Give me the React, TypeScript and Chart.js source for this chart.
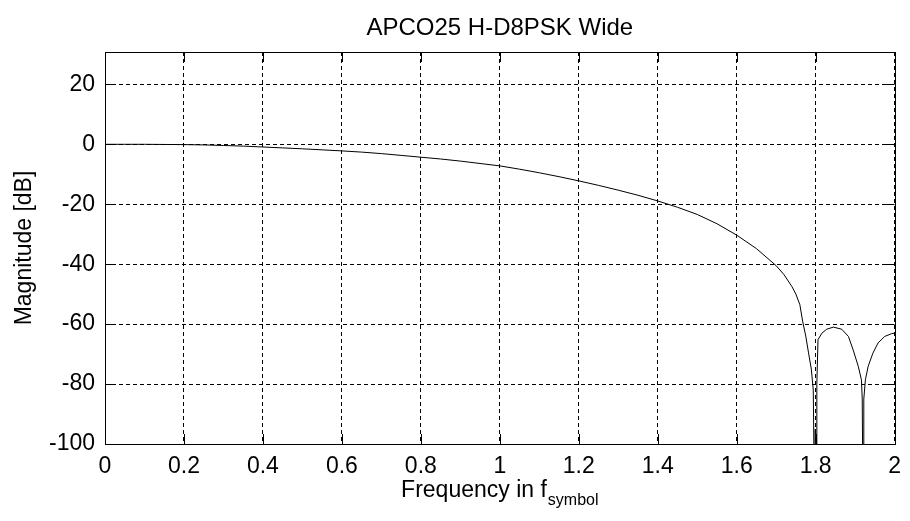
import { useEffect, useRef } from "react";
import { Chart, registerables } from "chart.js";

Chart.register(...registerables);

const FONT = "'Liberation Sans', Arial, Helvetica, sans-serif";

const TITLE = "APCO25 H-D8PSK Wide";
const Y_LABEL = "Magnitude [dB]";
const X_LABEL_MAIN = "Frequency in f";
const X_LABEL_SUB = "symbol";

const X_TICKS = [0, 0.2, 0.4, 0.6, 0.8, 1, 1.2, 1.4, 1.6, 1.8, 2];
const Y_TICKS = [-100, -80, -60, -40, -20, 0, 20];
const X_MIN = 0;
const X_MAX = 2;
const Y_MIN = -100;
const Y_MAX = 30.8;

const FREQ = [
  0, 0.05, 0.1, 0.15, 0.2, 0.25, 0.3, 0.35, 0.4, 0.45, 0.5, 0.55, 0.6, 0.65,
  0.7, 0.75, 0.8, 0.85, 0.9, 0.95, 1.0, 1.05, 1.1, 1.15, 1.2, 1.25, 1.3, 1.35,
  1.4, 1.45, 1.5, 1.55, 1.6, 1.65, 1.7, 1.72, 1.74, 1.75, 1.76, 1.767, 1.775,
  1.782, 1.789, 1.794, 1.797, 1.799, 1.801, 1.803, 1.806, 1.816, 1.828, 1.845,
  1.866, 1.883, 1.895, 1.908, 1.916, 1.918, 1.92, 1.922, 1.926, 1.933, 1.945,
  1.958, 1.975, 1.992, 2.0,
];
const MAG_DB = [
  0, 0, 0, -0.05, -0.1, -0.2, -0.4, -0.6, -0.9, -1.2, -1.5, -1.85, -2.2, -2.6,
  -3.1, -3.7, -4.3, -4.9, -5.6, -6.4, -7.2, -8.3, -9.5, -10.8, -12.2, -13.7,
  -15.3, -17.0, -18.9, -21.0, -23.4, -26.5, -30.3, -34.8, -40.5, -43.5, -47.5,
  -50.0, -53.5, -59.0, -64.0, -69.6, -75.0, -82.0, -120, -95, -120, -80, -65.2,
  -63.0, -61.7, -61.0, -61.7, -64.1, -68.6, -74.1, -78.6, -85.0, -120, -85.0,
  -78.6, -74.1, -69.7, -66.3, -64.1, -63.2, -63.0,
];

const fmtX = (v: number) => String(Number(Number(v).toFixed(1)));

const framePlugin = {
  id: "matlabFrame",
  afterDatasetsDraw(chart: any) {
    const { ctx, chartArea: a, scales } = chart;
    const xs = scales.x;
    const ys = scales.y;
    const L = 10;
    ctx.save();
    ctx.strokeStyle = "#000";
    ctx.lineWidth = 1;
    ctx.setLineDash([]);
    ctx.beginPath();
    X_TICKS.forEach((v) => {
      const px = Math.round(xs.getPixelForValue(v)) + 0.5;
      ctx.moveTo(px, a.bottom);
      ctx.lineTo(px, a.bottom - L);
      ctx.moveTo(px, a.top);
      ctx.lineTo(px, a.top + L);
    });
    Y_TICKS.forEach((v) => {
      const py = Math.round(ys.getPixelForValue(v)) + 0.5;
      ctx.moveTo(a.left, py);
      ctx.lineTo(a.left + L, py);
      ctx.moveTo(a.right, py);
      ctx.lineTo(a.right - L, py);
    });
    ctx.stroke();
    ctx.strokeRect(
      Math.round(a.left) + 0.5,
      Math.round(a.top) + 0.5,
      Math.round(a.right - a.left),
      Math.round(a.bottom - a.top)
    );

    // x-axis title with subscript
    ctx.fillStyle = "#000";
    ctx.textBaseline = "alphabetic";
    ctx.textAlign = "left";
    ctx.font = `23px ${FONT}`;
    const w1 = ctx.measureText(X_LABEL_MAIN).width;
    ctx.font = `16px ${FONT}`;
    const w2 = ctx.measureText(X_LABEL_SUB).width;
    const cx = (a.left + a.right) / 2;
    const x0 = cx - (w1 + w2 + 1) / 2;
    ctx.font = `23px ${FONT}`;
    ctx.fillText(X_LABEL_MAIN, x0, a.bottom + 53);
    ctx.font = `16px ${FONT}`;
    ctx.fillText(X_LABEL_SUB, x0 + w1 + 1, a.bottom + 61);
    ctx.restore();
  },
};

export default function App() {
  const canvasRef = useRef<HTMLCanvasElement | null>(null);

  useEffect(() => {
    const canvas = canvasRef.current;
    if (!canvas) return;
    const chart = new Chart(canvas, {
      type: "line",
      data: {
        datasets: [
          {
            label: "Magnitude",
            data: FREQ.map((f, i) => ({ x: f, y: MAG_DB[i] })),
            borderColor: "#000",
            backgroundColor: "#000",
            borderWidth: 1,
            pointRadius: 0,
            tension: 0,
            fill: false,
          },
        ],
      },
      options: {
        responsive: false,
        animation: false,
        devicePixelRatio: 1,
        layout: { padding: { left: 0, right: 10, top: 0, bottom: 0 } },
        plugins: {
          legend: { display: false },
          tooltip: { enabled: false },
          title: {
            display: true,
            fullSize: false,
            text: TITLE,
            color: "#000",
            font: { family: FONT, size: 24, weight: "normal", lineHeight: 1.2 },
            padding: { top: 13.5, bottom: 9.7 },
          },
        },
        scales: {
          x: {
            type: "linear",
            min: X_MIN,
            max: X_MAX,
            afterBuildTicks: (scale: any) => {
              scale.ticks = X_TICKS.map((v) => ({ value: v }));
            },
            afterFit: (scale: any) => {
              scale.height = 77;
            },
            ticks: {
              autoSkip: false,
              maxRotation: 0,
              minRotation: 0,
              padding: 9,
              color: "#000",
              font: { family: FONT, size: 23 },
              callback: (v: any) => fmtX(v),
            },
            grid: { color: "#000", lineWidth: 1, drawTicks: false },
            border: { display: false, dash: [4, 3] },
          },
          y: {
            type: "linear",
            min: Y_MIN,
            max: Y_MAX,
            afterBuildTicks: (scale: any) => {
              scale.ticks = Y_TICKS.map((v) => ({ value: v }));
            },
            afterFit: (scale: any) => {
              scale.width = 105;
            },
            ticks: {
              padding: 10,
              color: "#000",
              font: { family: FONT, size: 23 },
              callback: (v: any) => String(v),
            },
            title: {
              display: true,
              text: Y_LABEL,
              color: "#000",
              font: { family: FONT, size: 23, lineHeight: 1.2 },
              padding: { top: 11, bottom: 0 },
            },
            grid: { color: "#000", lineWidth: 1, drawTicks: false },
            border: { display: false, dash: [4, 3] },
          },
        },
      },
      plugins: [framePlugin],
    });
    return () => chart.destroy();
  }, []);

  return (
    <div
      style={{
        position: "fixed",
        left: 0,
        top: 0,
        width: 910,
        height: 521,
        background: "#fff",
      }}
    >
      <canvas
        ref={canvasRef}
        width={910}
        height={521}
        style={{ display: "block", width: 910, height: 521 }}
      />
    </div>
  );
}
